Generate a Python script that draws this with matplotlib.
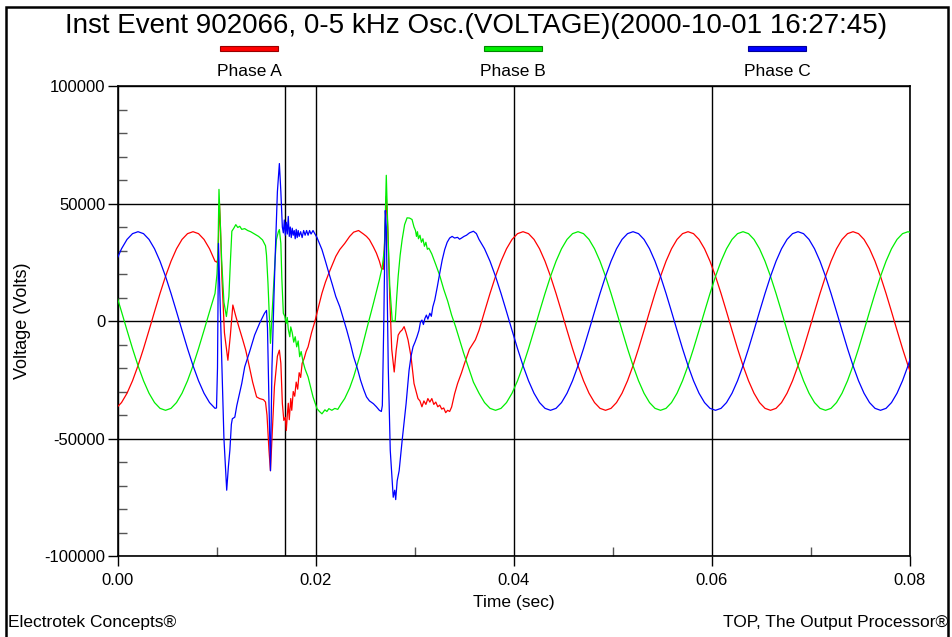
import numpy as np
import matplotlib.pyplot as plt
from matplotlib.patches import Rectangle
from matplotlib.ticker import MultipleLocator, FormatStrFormatter

plt.rcParams['font.family'] = ['Liberation Sans Narrow', 'Liberation Sans', 'DejaVu Sans']

W, H = 952, 637

# steady-state parts are sampled 30 times per 60 Hz cycle (times in ms)
step_ms = 1000 / 60 / 30
t0_pre_ms = -0.2
t0_post_ms = 36.467

# --- before the disturbance ---
a_pre = [-37170, -34710, -30740, -25430, -19000, -11740, -3970, 3970, 11740, 19000,
         25430, 30740, 34710, 37170, 38000, 37170, 34710, 30740, 25430]
b_pre = [11740, 3970, -3970, -11740, -19000, -25430, -30740, -34710, -37170, -38000,
         -37170, -34710, -30740, -25430, -19000, -11740, -3970, 3970, 11740]
c_pre = [25430, 30740, 34710, 37170, 38000, 37170, 34710, 30740, 25430, 19000,
         11740, 3970, -3970, -11740, -19000, -25430, -30740, -34710, -37170]

# --- disturbance (t ms, volts) ---
a_evt_t = [10.0, 10.1, 10.25, 10.35, 10.5, 10.75, 11.1, 11.35, 11.6, 11.9, 12.2, 12.6, 12.9, 13.2,
           13.6, 14.0, 14.3, 14.7, 14.9, 15.05, 15.25, 15.4, 15.55, 15.8, 16.1, 16.3, 16.45, 16.6,
           16.75, 16.9, 17.0, 17.1, 17.2, 17.3, 17.45, 17.55, 17.7, 17.85, 18.0, 18.15, 18.3, 18.45,
           18.6, 18.8, 19.0, 19.2, 19.55, 19.9, 20.25, 20.6, 20.95, 21.3, 21.65, 22.0, 22.4, 22.9,
           23.4, 23.8, 24.3, 24.8, 25.1, 25.4, 25.8, 26.1, 26.4, 26.6, 26.8, 26.95, 27.1, 27.25,
           27.45, 27.65, 27.9, 28.1, 28.3, 28.5, 28.7, 28.9, 29.1, 29.3, 29.6, 29.9, 30.3, 30.5,
           30.7, 30.9, 31.1, 31.3, 31.5, 31.7, 31.9, 32.1, 32.3, 32.5, 32.7, 32.9, 33.1, 33.3,
           33.5, 33.7, 34.0, 34.3, 34.7, 35.0, 35.5, 36.1]
a_evt_v = [25000, 27000, 50000, 40000, 18000, -5000, -16700, -6000, 6800, 2000, -2400, -8000, -12400, -18100,
           -26000, -32300, -33000, -33500, -34500, -40000, -55000, -63700, -50000, -28000, -15000, -12400, -18000, -35000,
           -42300, -41000, -46600, -40000, -35000, -42000, -33000, -38000, -30000, -32000, -26000, -29000, -22000, -24000,
           -18000, -16000, -13000, -11000, -5000, 0, 6000, 11800, 16500, 20400, 24000, 27500, 30400, 33000,
           36000, 37800, 38500, 37000, 36000, 34600, 31500, 28900, 25500, 22500, 22000, 35000, 53000, 40000,
           10000, -12000, -21700, -12400, -6000, -4600, -3800, -2400, -5000, -8100, -15200, -26600, -33000, -34000,
           -36500, -34000, -35500, -33000, -34500, -33000, -35500, -34500, -36500, -35800, -37500, -37000, -39000, -38000,
           -38500, -36600, -31000, -26600, -22000, -18100, -12000, -8000]

b_evt_t = [10.0, 10.1, 10.2, 10.3, 10.47, 10.7, 10.95, 11.2, 11.35, 11.5, 11.7, 11.9, 12.1, 12.3,
           12.5, 12.8, 13.1, 13.4, 13.8, 14.2, 14.6, 14.9, 15.0, 15.15, 15.3, 15.4, 15.55, 15.7,
           15.85, 16.0, 16.2, 16.3, 16.45, 16.55, 16.7, 16.85, 17.0, 17.1, 17.2, 17.35, 17.45, 17.6,
           17.75, 17.9, 18.05, 18.2, 18.35, 18.5, 18.7, 18.9, 19.2, 19.45, 19.7, 20.1, 20.35, 20.6,
           20.9, 21.1, 21.3, 21.6, 21.9, 22.2, 22.5, 22.9, 23.4, 23.8, 24.5, 25.1, 25.8, 26.4,
           26.7, 26.9, 27.0, 27.1, 27.25, 27.45, 27.7, 28.0, 28.15, 28.3, 28.5, 28.7, 28.95, 29.2,
           29.45, 29.7, 29.9, 30.05, 30.15, 30.25, 30.35, 30.5, 30.65, 30.8, 30.95, 31.1, 31.25, 31.4,
           31.7, 32.1, 32.5, 32.9, 33.3, 33.7, 34.1, 34.5, 34.9, 35.4, 35.9]
b_evt_v = [20000, 30000, 56000, 45000, 26000, 8000, 1900, 10400, 25000, 38200, 39500, 41000, 39800, 40300,
           39000, 39300, 38500, 38000, 37000, 36000, 34500, 32000, 28000, 16000, 0, -9500, 2000, 13300,
           25000, 34600, 38000, 38900, 33000, 18000, 3300, 2000, -1000, 1500, -3500, -6700, -2500, -5000,
           -9000, -6700, -11000, -8500, -15200, -13000, -17500, -20500, -23800, -28000, -32300, -37300, -38500, -39500,
           -37800, -38500, -37300, -38000, -37200, -37600, -35500, -33000, -28500, -23800, -13800, -3800, 7500, 17500,
           23200, 30400, 45000, 62000, 40000, 15000, 0, 0, 10000, 19000, 28000, 34600, 41000, 43900,
           43800, 43200, 40000, 38500, 36000, 38000, 35000, 36500, 33500, 35000, 31800, 33500, 30500, 31000,
           28500, 24000, 19300, 13500, 8500, 2500, -2400, -8000, -13500, -19800, -26000]

c_evt_t = [9.95, 10.05, 10.15, 10.3, 10.5, 10.7, 10.98, 11.15, 11.3, 11.45, 11.55, 11.8, 12.0, 12.2,
           12.5, 12.8, 13.3, 13.8, 14.3, 14.8, 15.0, 15.1, 15.25, 15.4, 15.55, 15.75, 15.9, 16.1,
           16.3, 16.45, 16.6, 16.7, 16.8, 16.9, 17.0, 17.1, 17.2, 17.3, 17.4, 17.5, 17.6, 17.7,
           17.8, 17.9, 18.0, 18.1, 18.2, 18.3, 18.45, 18.6, 18.75, 18.9, 19.05, 19.2, 19.35, 19.5,
           19.7, 19.9, 20.1, 20.35, 20.6, 20.95, 21.3, 21.65, 22.0, 22.4, 22.8, 23.1, 23.5, 23.8,
           24.2, 24.5, 24.8, 25.1, 25.4, 25.8, 26.1, 26.4, 26.6, 26.7, 26.85, 27.0, 27.1, 27.3,
           27.5, 27.8, 27.95, 28.05, 28.2, 28.4, 28.7, 29.1, 29.4, 29.6, 29.8, 30.0, 30.2, 30.4,
           30.55, 30.7, 30.85, 31.0, 31.15, 31.3, 31.5, 31.65, 31.8, 32.0, 32.25, 32.5, 32.75, 33.0,
           33.25, 33.5, 33.75, 34.0, 34.3, 34.5, 34.7, 34.95, 35.2, 35.5, 35.9, 36.2]
c_evt_v = [-37000, -20000, 33000, 10000, -20000, -50000, -72000, -62000, -55000, -44000, -41600, -40900, -36000, -32300,
           -26600, -19500, -13000, -6000, -1000, 3300, 4500, -3000, -35000, -63700, -20000, 10000, 30400, 55000,
           67000, 55000, 40000, 37500, 43000, 36500, 42000, 37000, 44500, 36000, 40000, 35500, 39500, 36500,
           38500, 35000, 39000, 35500, 38500, 36000, 38000, 35500, 38500, 36500, 38500, 36500, 38500, 37000,
           38500, 37000, 35500, 33000, 30400, 25500, 20400, 15500, 10400, 6100, 400, -3800, -10000, -15200,
           -20500, -25200, -29000, -32300, -34000, -35200, -36500, -38000, -38500, -36000, 0, 47000, 40000, -20000,
           -55000, -75000, -72000, -76000, -68000, -63700, -50900, -35200, -21000, -15000, -11000, -9000, -6700, -4000,
           -500, 400, -1500, 1100, 2500, 800, 3300, 2000, 6000, 9000, 14500, 20400, 26000, 30400,
           33500, 35300, 36000, 35300, 35600, 34800, 35300, 36000, 36500, 37500, 38200, 37200]

# --- after the disturbance ---
a_post = [-3970, 3970, 11740, 19000, 25430, 30740, 34710, 37170,
          38000, 37170, 34710, 30740, 25430, 19000, 11740, 3970, -3970, -11740,
          -19000, -25430, -30740, -34710, -37170, -38000, -37170, -34710, -30740, -25430,
          -19000, -11740, -3970, 3970, 11740, 19000, 25430, 30740, 34710, 37170,
          38000, 37170, 34710, 30740, 25430, 19000, 11740, 3970, -3970, -11740,
          -19000, -25430, -30740, -34710, -37170, -38000, -37170, -34710, -30740, -25430,
          -19000, -11740, -3970, 3970, 11740, 19000, 25430, 30740, 34710, 37170,
          38000, 37170, 34710, 30740, 25430, 19000, 11740, 3970, -3970, -11740, -19000, -25430]
b_post = [-30740, -34710, -37170, -38000, -37170, -34710, -30740, -25430,
          -19000, -11740, -3970, 3970, 11740, 19000, 25430, 30740, 34710, 37170,
          38000, 37170, 34710, 30740, 25430, 19000, 11740, 3970, -3970, -11740,
          -19000, -25430, -30740, -34710, -37170, -38000, -37170, -34710, -30740, -25430,
          -19000, -11740, -3970, 3970, 11740, 19000, 25430, 30740, 34710, 37170,
          38000, 37170, 34710, 30740, 25430, 19000, 11740, 3970, -3970, -11740,
          -19000, -25430, -30740, -34710, -37170, -38000, -37170, -34710, -30740, -25430,
          -19000, -11740, -3970, 3970, 11740, 19000, 25430, 30740, 34710, 37170, 38000, 37170]
c_post = [34710, 30740, 25430, 19000, 11740, 3970, -3970, -11740,
          -19000, -25430, -30740, -34710, -37170, -38000, -37170, -34710, -30740, -25430,
          -19000, -11740, -3970, 3970, 11740, 19000, 25430, 30740, 34710, 37170,
          38000, 37170, 34710, 30740, 25430, 19000, 11740, 3970, -3970, -11740,
          -19000, -25430, -30740, -34710, -37170, -38000, -37170, -34710, -30740, -25430,
          -19000, -11740, -3970, 3970, 11740, 19000, 25430, 30740, 34710, 37170,
          38000, 37170, 34710, 30740, 25430, 19000, 11740, 3970, -3970, -11740,
          -19000, -25430, -30740, -34710, -37170, -38000, -37170, -34710, -30740, -25430, -19000, -11740]

cursor_t = 0.01687
phase_names = ["Phase A", "Phase B", "Phase C"]
phase_colors = ["#ff0000", "#00ee00", "#0000ff"]
edge_colors = ["#990000", "#008800", "#000099"]


def build(pre, evt_t, evt_v, post):
    t_pre = t0_pre_ms + step_ms * np.arange(len(pre))
    t_post = t0_post_ms + step_ms * np.arange(len(post))
    t = np.concatenate([t_pre, evt_t, t_post]) / 1000.0
    v = np.concatenate([pre, evt_v, post])
    return t, v


series = [build(a_pre, a_evt_t, a_evt_v, a_post),
          build(b_pre, b_evt_t, b_evt_v, b_post),
          build(c_pre, c_evt_t, c_evt_v, c_post)]

fig = plt.figure(figsize=(W / 100, H / 100), dpi=100)
ax = fig.add_axes([118 / W, 1 - 556 / H, (910 - 118) / W, (556 - 86) / H])

for (t, v), col in zip(series, phase_colors):
    ax.plot(t, v, color=col, lw=0.9, zorder=3)

ax.axvline(cursor_t, color="black", lw=1.0, zorder=2)

ax.set_xlim(0, 0.08)
ax.set_ylim(-100000, 100000)
ax.xaxis.set_major_locator(MultipleLocator(0.02))
ax.xaxis.set_minor_locator(MultipleLocator(0.01))
ax.yaxis.set_major_locator(MultipleLocator(50000))
ax.yaxis.set_minor_locator(MultipleLocator(10000))
ax.xaxis.set_major_formatter(FormatStrFormatter("%.2f"))
ax.yaxis.set_major_formatter(FormatStrFormatter("%d"))
ax.tick_params(which="major", direction="out", length=7, width=1, pad=2, labelsize=12)
ax.tick_params(axis="x", which="major", pad=5)
ax.tick_params(which="minor", direction="in", length=6.5, width=1, color="#555555")
ax.grid(True, which="major", color="black", lw=1.0)
for s in ax.spines.values():
    s.set_linewidth(1.2)

ax.set_xlabel("Time (sec)", fontsize=12.5, labelpad=5)
ax.set_ylabel("Voltage (Volts)", fontsize=13, labelpad=10)

fig.text(0.5, 1 - 26 / H, "Inst Event 902066, 0-5 kHz Osc.(VOLTAGE)(2000-10-01 16:27:45)",
         ha="center", va="center", fontsize=20)

bar_x = [249, 513, 777]
for cx, name, col, ec in zip(bar_x, phase_names, phase_colors, edge_colors):
    fig.add_artist(Rectangle(((cx - 29) / W, 1 - 51 / H), 58 / W, 5 / H,
                             transform=fig.transFigure, facecolor=col, edgecolor=ec, lw=0.8))
    fig.text(cx / W, 1 - 72 / H, name, ha="center", va="center", fontsize=12.5)

fig.text(8 / W, 1 - 622 / H, "Electrotek Concepts®", ha="left", va="center", fontsize=12.5)
fig.text(948 / W, 1 - 622 / H, "TOP, The Output Processor®", ha="right", va="center", fontsize=12.5)

fig.add_artist(Rectangle((6 / W, -0.02), 942 / W, (630 / H) + 0.02,
                         transform=fig.transFigure, fill=False, edgecolor="black", lw=1.8))

fig.savefig("out.png", dpi=100)
